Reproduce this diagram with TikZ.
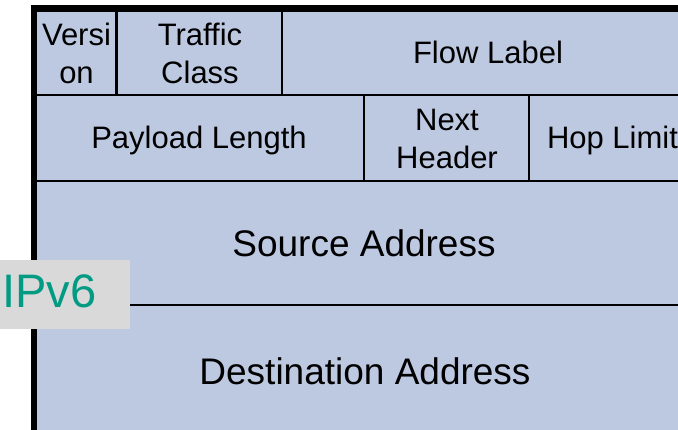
\documentclass[tikz,border=0pt]{standalone}
\usepackage{fontspec}
\setmainfont{Liberation Sans}
\definecolor{fieldblue}{RGB}{189,200,225}
\definecolor{tagGrey}{RGB}{217,217,217}
\definecolor{tagTeal}{RGB}{0,155,130}
\tikzset{
  rule/.style={line width=2.6pt, black},
  frame/.style={line width=6.5pt, black, line join=miter},
  smallfield/.style={font=\fontsize{31}{38}\selectfont, align=center, inner sep=0pt},
  bigfield/.style={font=\fontsize{37}{44}\selectfont, inner sep=0pt, anchor=base},
}
\begin{document}
\begin{tikzpicture}[x=1pt,y=-1pt]
\useasboundingbox (0,0) rectangle (678,430);
\clip (0,0) rectangle (678,430);

% header body
\fill[fieldblue] (34,8.5) rectangle (700,440);

% row separators
\draw[rule] (34,95) -- (700,95);
\draw[rule] (34,181) -- (700,181);
\draw[rule] (34,305) -- (700,305);

% column separators, first and second word
\draw[rule] (116.5,8.5) -- (116.5,95);
\draw[rule] (282,8.5) -- (282,95);
\draw[rule] (364,95) -- (364,181);
\draw[rule] (529,95) -- (529,181);

% outer frame (left and top)
\draw[frame] (34,440) -- (34,8.5) -- (700,8.5);

% field labels
\node[smallfield] (ver) at (76.5,53.5) {Versi\\on};
\node[smallfield] (tc) at (200,53.5) {Traffic\\Class};
\node[smallfield, anchor=base] (fl) at (488,64) {Flow Label};
\node[smallfield, anchor=base] (pl) at (199,149) {Payload Length};
\node[smallfield] (nh) at (447,139) {Next\\Header};
\node[smallfield, anchor=base] (hl) at (612.5,149) {Hop Limit};
\node[bigfield] (src) at (364,257) {Source Address};
\node[bigfield] (dst) at (365,385) {Destination Address};

% protocol tag
\node[fill=tagGrey, minimum width=130pt, minimum height=69pt, inner sep=0pt, anchor=north west] (tag) at (0,260) {};
\node[font=\fontsize{47}{56}\selectfont, text=tagTeal, inner sep=0pt, anchor=base west] (tagtext) at (2,308) {IPv6};
\end{tikzpicture}
\end{document}
